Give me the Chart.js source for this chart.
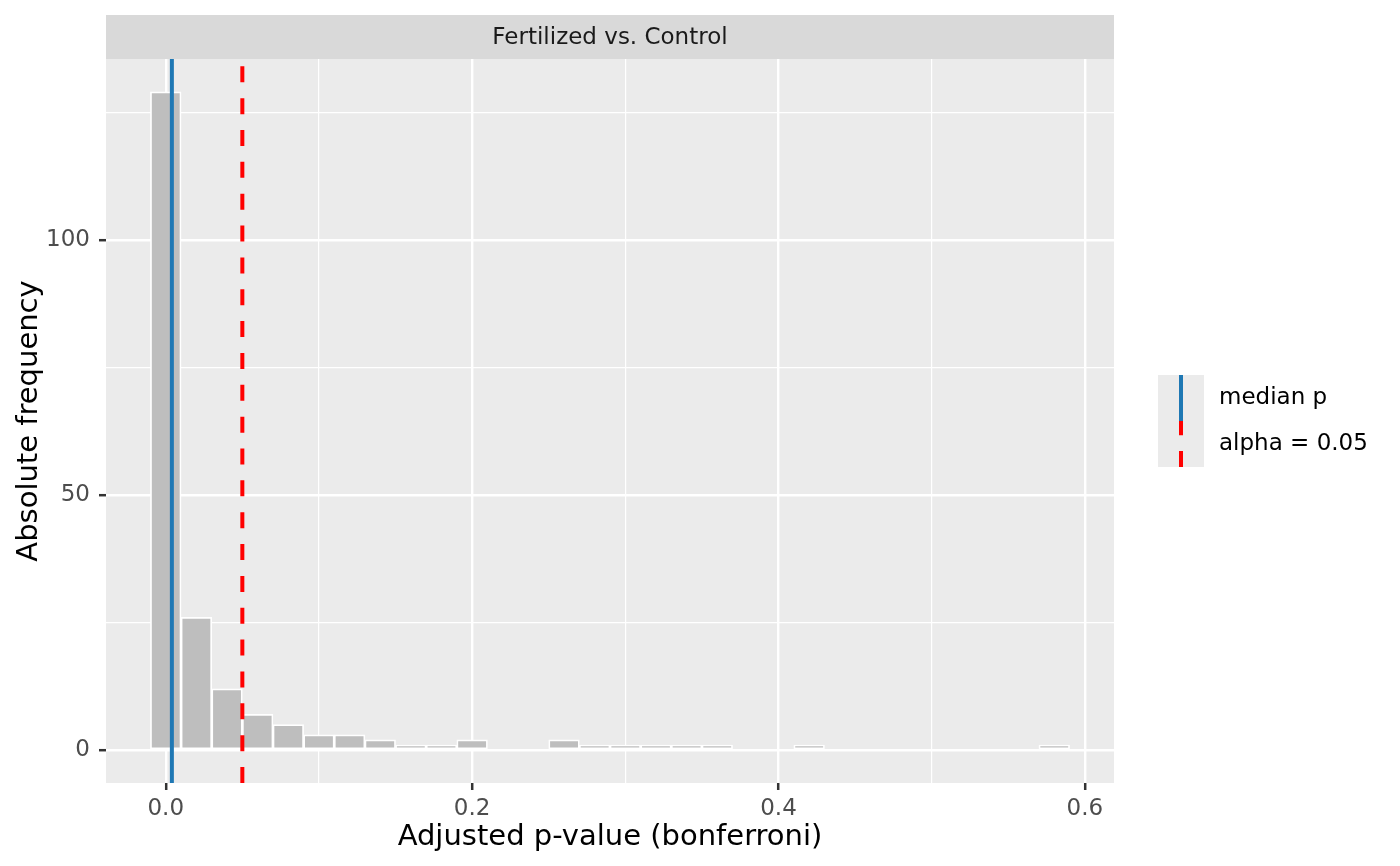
<!DOCTYPE html>
<html>
<head>
<meta charset="utf-8">
<script src="https://cdn.jsdelivr.net/npm/chart.js@4.4.1/dist/chart.umd.min.js"></script>
<style>
  html, body { margin: 0; padding: 0; background: #ffffff; }
  #wrap { width: 1400px; height: 866px; }
</style>
</head>
<body>
<div id="wrap"><canvas id="pvalChart" width="1400" height="866"></canvas></div>
<script>
// histogram bins (centres, width 0.02) and counts
const binCenters = [0.00, 0.02, 0.04, 0.06, 0.08, 0.10, 0.12, 0.14, 0.16, 0.18,
                    0.20, 0.22, 0.24, 0.26, 0.28, 0.30, 0.32, 0.34, 0.36, 0.38,
                    0.40, 0.42, 0.44, 0.46, 0.48, 0.50, 0.52, 0.54, 0.56, 0.58];
const counts = [129, 26, 12, 7, 5, 3, 3, 2, 1, 1,
                2, 0, 0, 2, 1, 1, 1, 1, 1, 0,
                0, 1, 0, 0, 0, 0, 0, 0, 0, 1];

// reference lines
const refLabels = ['median p', 'alpha = 0.05'];
const refValues = [0.004, 0.05];

const xTickLabels = ['0.0', '0.2', '0.4', '0.6'];
const yTickLabels = ['0', '50', '100'];
const stripTitle = 'Fertilized vs. Control';

Chart.defaults.font.family = "'DejaVu Sans', sans-serif";

const isMajorX = v => xTickLabels.includes(v.toFixed(1));
const isMajorY = v => yTickLabels.includes(String(Math.round(v)));

const refStyles = [
  { color: '#1F78B4', dash: [] },
  { color: '#FF0000', dash: [16, 15.85] }
];

const panelPlugin = {
  id: 'panel',
  beforeDraw(chart) {
    const { ctx, chartArea: a } = chart;
    ctx.save();
    ctx.fillStyle = '#FFFFFF';
    ctx.fillRect(0, 0, chart.width, chart.height);
    ctx.fillStyle = '#EBEBEB';
    ctx.fillRect(a.left, a.top, a.right - a.left, a.bottom - a.top);
    // facet strip
    ctx.fillStyle = '#D9D9D9';
    ctx.fillRect(a.left, 15, a.right - a.left, a.top - 15);
    ctx.fillStyle = '#1A1A1A';
    ctx.font = "23px 'DejaVu Sans'";
    ctx.textAlign = 'center';
    ctx.textBaseline = 'middle';
    ctx.fillText(stripTitle, (a.left + a.right) / 2, (15 + a.top) / 2 + 1);
    ctx.restore();
  },
  afterDatasetsDraw(chart) {
    const { ctx, chartArea: a, scales } = chart;
    ctx.save();
    refValues.forEach((v, i) => {
      const px = scales.x.getPixelForValue(v);
      ctx.strokeStyle = refStyles[i].color;
      ctx.lineWidth = 4;
      ctx.setLineDash(refStyles[i].dash);
      ctx.beginPath();
      ctx.moveTo(px, a.bottom);
      ctx.lineTo(px, a.top);
      ctx.stroke();
    });
    ctx.restore();
  },
  afterDraw(chart) {
    // legend on the right, like ggplot's guide
    const { ctx, chartArea: a } = chart;
    const keyW = 46, keyH = 46;
    const kx = a.right + 44;
    const ky = (a.top + a.bottom) / 2 - keyH * refLabels.length / 2;
    ctx.save();
    refLabels.forEach((label, i) => {
      const y0 = ky + i * keyH;
      ctx.fillStyle = '#EBEBEB';
      ctx.fillRect(kx, y0, keyW, keyH);
    });
    refLabels.forEach((label, i) => {
      const y0 = ky + i * keyH;
      ctx.strokeStyle = refStyles[i].color;
      ctx.lineWidth = 4;
      ctx.setLineDash(refStyles[i].dash);
      ctx.beginPath();
      ctx.moveTo(kx + keyW / 2, y0 + keyH);
      ctx.lineTo(kx + keyW / 2, y0);
      ctx.stroke();
      ctx.setLineDash([]);
      ctx.fillStyle = '#000000';
      ctx.font = "23px 'DejaVu Sans'";
      ctx.textAlign = 'left';
      ctx.textBaseline = 'middle';
      ctx.fillText(label, kx + keyW + 15, y0 + keyH / 2);
    });
    ctx.restore();
  }
};

new Chart(document.getElementById('pvalChart'), {
  type: 'bar',
  data: {
    datasets: [{
      label: 'count',
      data: binCenters.map((x, i) => ({ x: x, y: counts[i] })),
      backgroundColor: '#BEBEBE',
      borderColor: '#FFFFFF',
      borderWidth: 1.7,
      borderSkipped: false,
      barPercentage: 1,
      categoryPercentage: 1
    }]
  },
  options: {
    responsive: false,
    devicePixelRatio: 1,
    animation: false,
    layout: { padding: { top: 59, right: 286, bottom: 0, left: 0 } },
    plugins: {
      legend: { display: false },
      tooltip: { enabled: false }
    },
    scales: {
      x: {
        type: 'linear',
        min: -0.039,
        max: 0.619,
        offset: false,
        border: { display: false },
        grid: {
          offset: false,
          color: '#FFFFFF',
          lineWidth: c => (c.tick && isMajorX(c.tick.value)) ? 2.4 : 1.2,
          tickLength: 7,
          tickWidth: 2.5,
          tickColor: c => (c.tick && isMajorX(c.tick.value)) ? '#333333' : 'rgba(0,0,0,0)'
        },
        ticks: {
          stepSize: 0.1,
          includeBounds: false,
          autoSkip: false,
          maxRotation: 0,
          padding: 5,
          color: '#4D4D4D',
          font: { size: 23 },
          callback: v => isMajorX(v) ? v.toFixed(1) : ''
        },
        title: {
          display: true,
          text: 'Adjusted p-value (bonferroni)',
          color: '#000000',
          font: { size: 29 },
          padding: { top: 0, bottom: 11 }
        },
        afterFit(scale) { scale.height = 83; }
      },
      y: {
        min: -6.45,
        max: 135.45,
        border: { display: false },
        grid: {
          color: '#FFFFFF',
          lineWidth: c => (c.tick && isMajorY(c.tick.value)) ? 2.4 : 1.2,
          tickLength: 7,
          tickWidth: 2.5,
          tickColor: c => (c.tick && isMajorY(c.tick.value)) ? '#333333' : 'rgba(0,0,0,0)'
        },
        ticks: {
          stepSize: 25,
          includeBounds: false,
          autoSkip: false,
          padding: 9,
          color: '#4D4D4D',
          font: { size: 23 },
          callback: v => isMajorY(v) ? String(v) : ''
        },
        title: {
          display: true,
          text: 'Absolute frequency',
          color: '#000000',
          font: { size: 29 },
          padding: { top: 12, bottom: 0 }
        },
        afterFit(scale) { scale.width = 106; }
      }
    }
  },
  plugins: [panelPlugin]
});
</script>
</body>
</html>
